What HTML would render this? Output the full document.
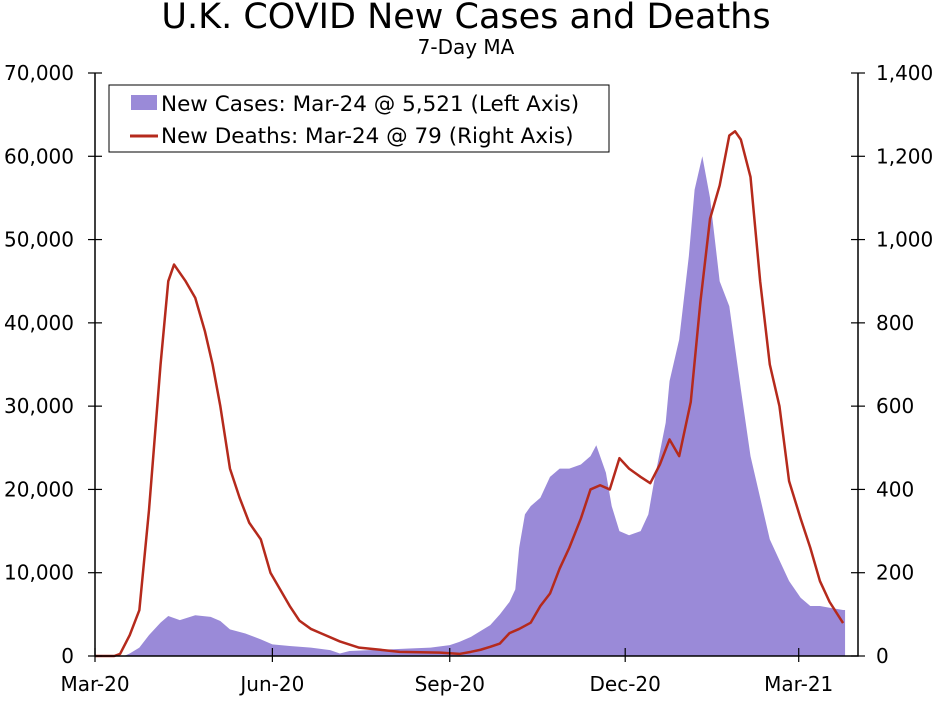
<!DOCTYPE html>
<html><head><meta charset="utf-8"><style>
body{margin:0;background:#fff;}
svg text{font-family:"DejaVu Sans","Liberation Sans",sans-serif;fill:#000;}
</style></head><body>
<svg id="chart" width="935" height="696" xmlns="http://www.w3.org/2000/svg">
<text x="466" y="28" font-size="35" text-anchor="middle">U.K. COVID New Cases and Deaths</text>
<text x="466" y="54" font-size="20" text-anchor="middle">7-Day MA</text>
<g id="plot"></g>
<g>
<rect x="109" y="85" width="500" height="67" fill="#fff" stroke="#000" stroke-width="1"/>
<rect x="131" y="95" width="26" height="15" fill="#9a8ad8"/>
<text x="161" y="111" font-size="21.5">New Cases: Mar-24 @ 5,521 (Left Axis)</text>
<line x1="130" y1="136" x2="158" y2="136" stroke="#b52a1c" stroke-width="3"/>
<text x="161" y="143" font-size="21.5">New Deaths: Mar-24 @ 79 (Right Axis)</text>
</g>
</svg>
<script>
const caseDays=[0,15,18,23,28,34,38,44,52,60,65,70,78,86,92,101,112,122,127,132,143,153,163,174,184,189,195,200,205,210,215,218,220,223,226,231,236,241,246,252,257,260,265,268,272,277,283,287,290,296,298,303,308,311,315,319,324,329,335,340,345,350,355,360,366,371,376,381,388];
const caseValues=[0,0,300,1000,2500,4000,4800,4300,4900,4700,4200,3200,2700,2000,1400,1200,1000,700,300,600,700,800,900,1000,1300,1700,2300,3000,3700,5000,6500,8000,13000,17000,18000,19000,21500,22500,22500,23000,24000,25300,22000,18000,15000,14500,15000,17000,21000,28000,33000,38000,48000,56000,60000,55000,45000,42000,32000,24000,19000,14000,11500,9000,7000,6000,6000,5800,5521];
const deathDays=[0,10,13,18,23,28,34,38,41,47,52,57,61,65,70,75,80,86,91,96,101,106,112,117,127,137,148,158,179,189,195,200,205,210,215,220,226,231,236,241,246,252,257,262,267,272,277,283,288,293,298,303,309,314,319,324,329,332,335,340,345,350,355,360,366,371,376,381,388];
const deathValues=[0,0,5,50,110,350,700,900,940,900,860,780,700,600,450,380,320,280,200,160,120,85,65,55,35,20,15,10,8,5,10,15,22,30,55,65,80,120,150,210,260,330,400,410,400,475,450,430,415,460,520,480,610,850,1050,1130,1250,1260,1240,1150,900,700,600,420,330,260,180,130,79];
const leftTicks=[0,10000,20000,30000,40000,50000,60000,70000];
const rightTicks=[0,200,400,600,800,1000,1200,1400];
const xTickLabels=["Mar-20","Jun-20","Sep-20","Dec-20","Mar-21"];
const xTickDays=[0,92,184,275,365];

const L=95,R=858,T=73,B=656,PXD=1.928;
const xS=d=>L+d*PXD;
const yL=v=>B-v/70000*(B-T);
const yR=v=>B-v/1400*(B-T);
const NS="http://www.w3.org/2000/svg";
const g=document.getElementById('plot');
function mk(t,a){const e=document.createElementNS(NS,t);for(const k in a)e.setAttribute(k,a[k]);g.appendChild(e);return e;}

let d="M"+xS(caseDays[0])+","+B;
for(let i=0;i<caseDays.length;i++){
  d+=" L"+xS(caseDays[i])+","+yL(caseValues[i]);
}
const lastX=xS(caseDays[caseDays.length-1]);
d+=" L"+(lastX+2)+","+yL(caseValues[caseValues.length-1])+" L"+(lastX+2)+","+B+" Z";
const area=mk('path',{d:d,fill:'#9a8ad8'});



let p="";
for(let i=0;i<deathDays.length;i++)p+=(i?" L":"M")+xS(deathDays[i])+","+yR(deathValues[i]);
const line=mk('path',{d:p,fill:'none',stroke:'#b52a1c','stroke-width':2.5,'stroke-linejoin':'round'});



const ax=mk('path',{d:`M${L},${T} L${L},${B} L${R},${B} L${R},${T}`,fill:'none',stroke:'#000','stroke-width':1.5});



leftTicks.forEach(v=>{
  const y=yL(v);
  mk('line',{x1:L-7,y1:y,x2:L+7,y2:y,stroke:'#000','stroke-width':1.2});
  const t=mk('text',{x:L-21,y:y+7,'font-size':20,'text-anchor':'end'});
  t.textContent=v.toLocaleString('en-US');
  
  
});
rightTicks.forEach(v=>{
  const y=yR(v);
  mk('line',{x1:R-7,y1:y,x2:R+7,y2:y,stroke:'#000','stroke-width':1.2});
  const t=mk('text',{x:R+18,y:y+7,'font-size':20,'text-anchor':'start'});
  t.textContent=v.toLocaleString('en-US');
  
  
});
xTickDays.forEach((dd,i)=>{
  const x=xS(dd);
  mk('line',{x1:x,y1:B-8,x2:x,y2:B+6,stroke:'#000','stroke-width':1.2});
  const t=mk('text',{x:x,y:B+35,'font-size':20,'text-anchor':'middle'});
  t.textContent=xTickLabels[i];
  
  
});
</script>
</body></html>
